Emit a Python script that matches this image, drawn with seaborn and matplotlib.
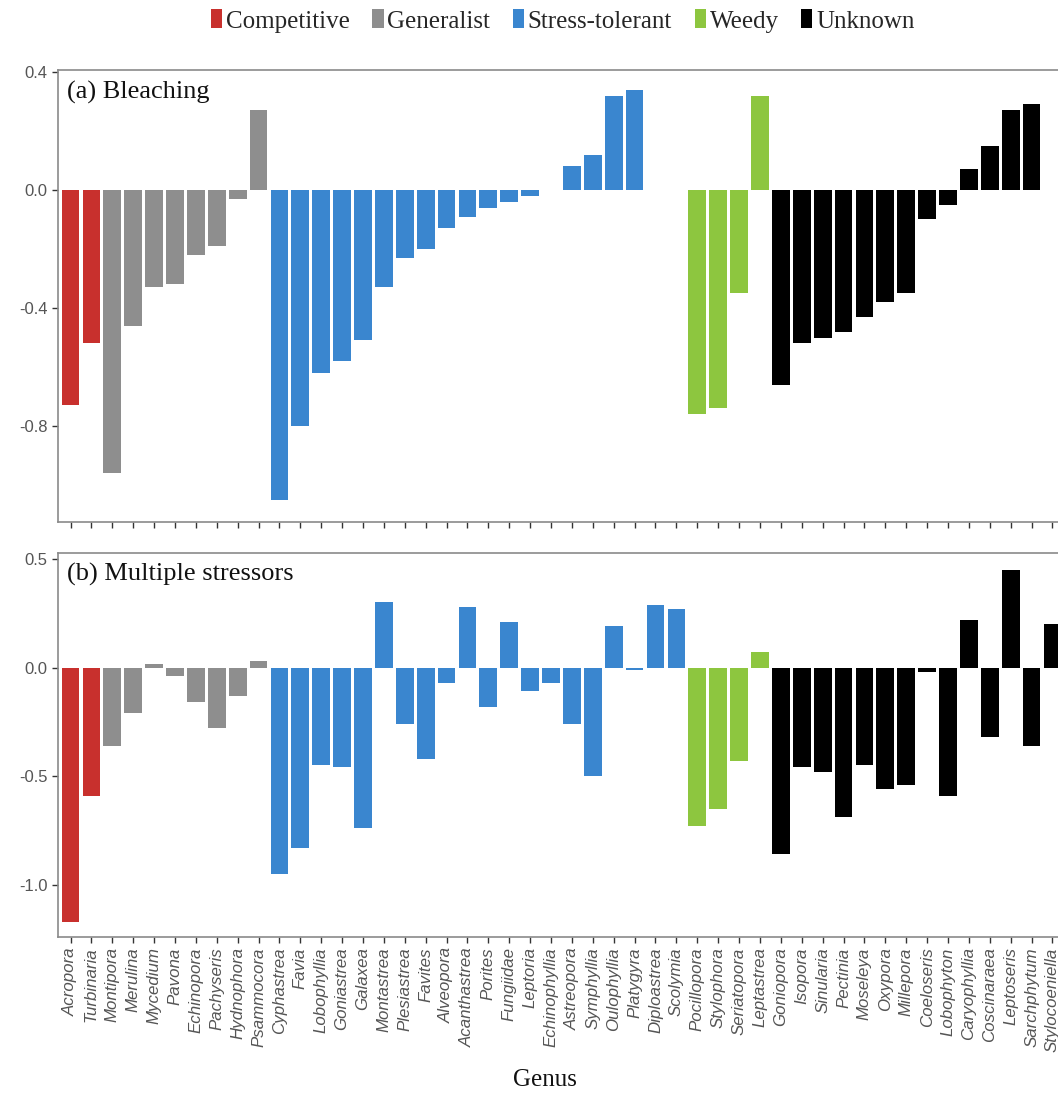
import numpy as np
import pandas as pd
import matplotlib
matplotlib.use("Agg")
import matplotlib.pyplot as plt
from matplotlib.patches import Patch
import seaborn as sns

genera = ["Acropora", "Turbinaria", "Montipora", "Merulina", "Mycedium", "Pavona",
          "Echinopora", "Pachyseris", "Hydnophora", "Psammocora", "Cyphastrea", "Favia",
          "Lobophyllia", "Goniastrea", "Galaxea", "Montastrea", "Plesiastrea", "Favites",
          "Alveopora", "Acanthastrea", "Porites", "Fungiidae", "Leptoria", "Echinophyllia",
          "Astreopora", "Symphyllia", "Oulophyllia", "Platygyra", "Diploastrea", "Scolymia",
          "Pocillopora", "Stylophora", "Seriatopora", "Leptastrea", "Goniopora", "Isopora",
          "Sinularia", "Pectinia", "Moseleya", "Oxypora", "Millepora", "Coeloseris",
          "Lobophyton", "Caryophyllia", "Coscinaraea", "Leptoseris", "Sarchphytum",
          "Stylocoeniella"]

life_history = (["Competitive"] * 2 + ["Generalist"] * 8 + ["Stress-tolerant"] * 20
                + ["Weedy"] * 4 + ["Unknown"] * 14)

bleaching = [-0.73, -0.52, -0.96, -0.46, -0.33, -0.32, -0.22, -0.19, -0.03, 0.27,
             -1.05, -0.80, -0.62, -0.58, -0.51, -0.33, -0.23, -0.20, -0.13, -0.09,
             -0.06, -0.04, -0.02, np.nan, 0.08, 0.12, 0.32, 0.34, np.nan, np.nan,
             -0.76, -0.74, -0.35, 0.32, -0.66, -0.52, -0.50, -0.48, -0.43, -0.38,
             -0.35, -0.10, -0.05, 0.07, 0.15, 0.27, 0.29, np.nan]

multiple = [-1.17, -0.59, -0.36, -0.21, 0.017, -0.04, -0.16, -0.28, -0.13, 0.03,
            -0.95, -0.83, -0.45, -0.46, -0.74, 0.30, -0.26, -0.42, -0.07, 0.28,
            -0.18, 0.21, -0.11, -0.07, -0.26, -0.50, 0.19, -0.01, 0.29, 0.27,
            -0.73, -0.65, -0.43, 0.07, -0.86, -0.46, -0.48, -0.69, -0.45, -0.56,
            -0.54, -0.02, -0.59, 0.22, -0.32, 0.45, -0.36, 0.20]

groups = ["Competitive", "Generalist", "Stress-tolerant", "Weedy", "Unknown"]
colors = ["#C8302D", "#8E8E8E", "#3A86CF", "#8DC63F", "#000000"]

ticks_a = [0.4, 0.0, -0.4, -0.8]
ticks_b = [0.5, 0.0, -0.5, -1.0]

df = pd.DataFrame({"genus": genera, "group": life_history,
                   "bleaching": bleaching, "multiple": multiple})

sns.set_style("white")
plt.rcParams["axes.unicode_minus"] = False
plt.rcParams["font.family"] = ["Liberation Sans", "DejaVu Sans"]

fig = plt.figure(figsize=(10.58, 11), dpi=100)
ax1 = fig.add_axes([0.0548, 0.5255, 0.9518, 0.411])
ax2 = fig.add_axes([0.0548, 0.1482, 0.9518, 0.3491])

palette = dict(zip(groups, colors))
serif = ["Liberation Serif", "DejaVu Serif"]

panels = [(ax1, "bleaching", ticks_a, (-1.125, 0.407), "(a) Bleaching"),
          (ax2, "multiple", ticks_b, (-1.241, 0.528), "(b) Multiple stressors")]

for ax, col, ticks, ylim, title in panels:
    sub = df.dropna(subset=[col])
    sns.barplot(data=sub, x="genus", y=col, hue="group", order=genera,
                hue_order=groups, palette=palette, dodge=False, width=0.85,
                saturation=1, errorbar=None, legend=False, ax=ax, linewidth=0)
    ax.set_xlim(-0.6, len(genera) - 0.4)
    ax.set_ylim(*ylim)
    ax.set_yticks(ticks)
    ax.set_yticklabels([f"{t:.1f}" for t in ticks])
    ax.set_xlabel("")
    ax.set_ylabel("")
    for s in ax.spines.values():
        s.set_color("#8a8a8a")
        s.set_linewidth(1.2)
    ax.tick_params(axis="both", which="both", direction="out", length=4,
                   width=1, color="#333333", bottom=True, left=True,
                   labelsize=12, labelcolor="#555555")
    ax.text(0.009, 0.975, title, transform=ax.transAxes, ha="left", va="top",
            fontsize=19, family=serif, color="#111111")

ax1.set_xticks(range(len(genera)))
ax1.set_xticklabels([])
ax2.set_xticks(range(len(genera)))
ax2.set_xticklabels(genera, rotation=90, style="italic", fontsize=12.2,
                    color="#555555", ha="center", va="top")

fig.text(0.515, 0.018, "Genus", ha="center", va="center", fontsize=18,
         family=serif, color="#111111")

handles = [Patch(facecolor=c, edgecolor="none") for c in colors]
fig.legend(handles, groups, loc="center", bbox_to_anchor=(0.532, 0.981), ncol=5,
           frameon=False, prop={"family": serif, "size": 18}, handlelength=0.45,
           handleheight=0.8, handletextpad=0.15, columnspacing=0.9,
           borderaxespad=0)

fig.savefig("out.png", dpi=100)
